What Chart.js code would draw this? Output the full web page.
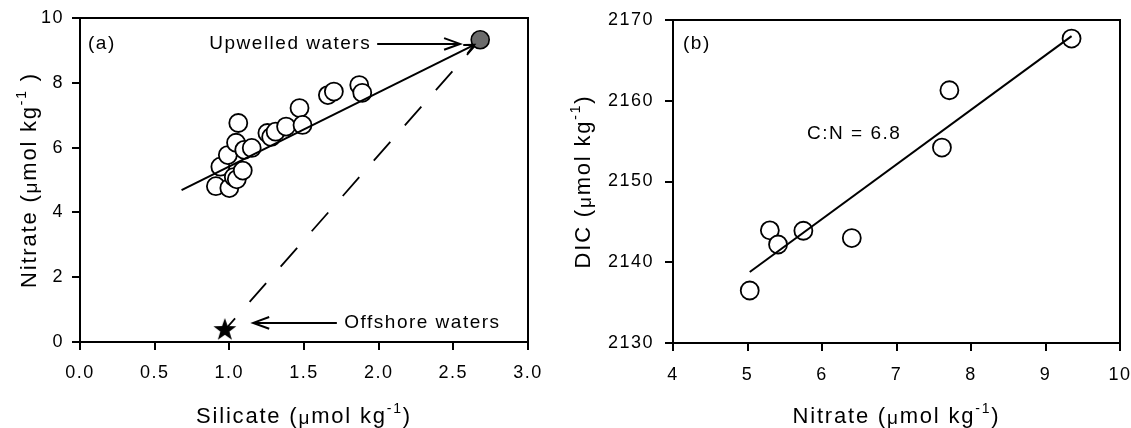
<!DOCTYPE html>
<html>
<head>
<meta charset="UTF-8">
<title>Silicate / Nitrate / DIC</title>
<script src="https://cdn.jsdelivr.net/npm/chart.js"></script>
<style>
    body { margin: 0; background: #fff; }
    #wrap { position: relative; width: 1131px; height: 428px; }
    .panel { position: absolute; top: 0; height: 428px; }
    #pa { left: 0; width: 560px; }
    #pb { left: 560px; width: 571px; }
</style>
</head>
<body>
<div id="wrap">
    <div class="panel" id="pa"><canvas id="chartA"></canvas></div>
    <div class="panel" id="pb"><canvas id="chartB"></canvas></div>
</div>
<script>
// (a) silicate vs nitrate
const silicate = [0.91, 1.00, 0.94, 0.99, 1.03, 1.05, 1.045, 1.06, 1.09, 1.10, 1.15, 1.255, 1.28, 1.31, 1.38, 1.47, 1.49, 1.66, 1.70, 1.87, 1.89];
const nitrate  = [4.81, 4.75, 5.41, 5.77, 5.09, 5.02, 6.15, 6.76, 5.29, 5.93, 5.99, 6.45, 6.33, 6.49, 6.65, 7.22, 6.70, 7.62, 7.73, 7.93, 7.69];
const upwelledSi = [2.68], upwelledN = [9.33];
const offshoreSi = [0.97], offshoreN = [0.37];
const fitSi = [0.68, 2.64], fitN = [4.69, 9.17];
const mixSi = [0.97, 2.68], mixN = [0.37, 9.33];
const siTicks = [0, 0.5, 1.0, 1.5, 2.0, 2.5, 3.0];
const siTickLabels = ['0.0', '0.5', '1.0', '1.5', '2.0', '2.5', '3.0'];
const nTicks = [0, 2, 4, 6, 8, 10];
const nTickLabels = ['0', '2', '4', '6', '8', '10'];

// (b) nitrate vs DIC
const nitrateB = [5.03, 5.30, 5.41, 5.75, 6.40, 7.61, 7.71, 9.35];
const dic      = [2136.5, 2143.95, 2142.2, 2143.9, 2143.0, 2154.2, 2161.3, 2167.7];
const fitBN = [5.03, 9.35], fitBDic = [2138.8, 2168.0];
const nbTicks = [4, 5, 6, 7, 8, 9, 10];
const nbTickLabels = ['4', '5', '6', '7', '8', '9', '10'];
const dicTicks = [2130, 2140, 2150, 2160, 2170];
const dicTickLabels = ['2130', '2140', '2150', '2160', '2170'];

const FONT = '"Liberation Sans", Arial, Helvetica, sans-serif';
const TICK = 7;

function pts(xs, ys) { return xs.map((x, i) => ({ x: x, y: ys[i] })); }

function starImage(r) {
    const c = document.createElement('canvas');
    c.width = c.height = 2 * r + 2;
    const g = c.getContext('2d');
    g.translate(r + 1, r + 1);
    g.beginPath();
    for (let i = 0; i < 10; i++) {
        const rad = i % 2 ? r * 0.4 : r;
        const a = -Math.PI / 2 + i * Math.PI / 5;
        g.lineTo(rad * Math.cos(a), rad * Math.sin(a));
    }
    g.closePath();
    g.fillStyle = '#000';
    g.fill();
    return c;
}

function arrowHead(ctx, x, y, ang, len, spread) {
    ctx.beginPath();
    ctx.moveTo(x - len * Math.cos(ang - spread), y - len * Math.sin(ang - spread));
    ctx.lineTo(x, y);
    ctx.lineTo(x - len * Math.cos(ang + spread), y - len * Math.sin(ang + spread));
    ctx.stroke();
}

// "Name (µmol kg-1)" with superscript, centred on (x, baseline)
function unitLabel(ctx, name, x, y, rotated, spaceBefore) {
    const parts = [
        [name + ' (', 22, 0],
        ['\u03bc', 19, 1],
        ['mol kg', 22, 0],
        ['-1', 14, -10],
        [spaceBefore ? ' )' : ')', 22, 0]
    ];
    ctx.save();
    ctx.translate(x, y);
    if (rotated) ctx.rotate(-Math.PI / 2);
    ctx.letterSpacing = '1.8px';
    ctx.fillStyle = '#000';
    ctx.textAlign = 'left';
    ctx.textBaseline = 'alphabetic';
    let w = 0;
    parts.forEach(p => { ctx.font = p[1] + 'px ' + FONT; w += ctx.measureText(p[0]).width; });
    let cx = -w / 2;
    parts.forEach(p => {
        ctx.font = p[1] + 'px ' + FONT;
        ctx.fillText(p[0], cx, p[2]);
        cx += ctx.measureText(p[0]).width;
    });
    ctx.restore();
}

function text(ctx, s, x, y, align) {
    ctx.save();
    ctx.letterSpacing = '1.5px';
    ctx.font = '19px ' + FONT;
    ctx.fillStyle = '#000';
    ctx.textAlign = align || 'left';
    ctx.textBaseline = 'middle';
    ctx.fillText(s, x, y);
    ctx.restore();
}

// box round the plot area plus outward tick marks
function drawFrame(chart, xt, yt) {
    const ctx = chart.ctx, a = chart.chartArea;
    const sx = chart.scales.x, sy = chart.scales.y;
    ctx.save();
    ctx.setLineDash([]);
    ctx.strokeStyle = '#000';
    ctx.fillStyle = '#000';
    ctx.lineWidth = 2;
    ctx.strokeRect(a.left, a.top, a.right - a.left, a.bottom - a.top);
    xt.forEach(v => {
        const x = Math.round(sx.getPixelForValue(v));
        ctx.fillRect(x - 1, a.bottom, 2, TICK + 1);
    });
    yt.forEach(v => {
        const y = Math.round(sy.getPixelForValue(v));
        ctx.fillRect(a.left - TICK - 1, y - 1, TICK + 1, 2);
    });
    ctx.restore();
}

const spacing = {
    id: 'spacing',
    beforeDraw(chart) { chart.ctx.letterSpacing = '1.5px'; }
};

function axis(min, max, ticks, labels, size, pad) {
    return {
        type: 'linear', min: min, max: max,
        afterFit: s => {
            if (s.isHorizontal()) s.height = size; else s.width = size;
            s.paddingLeft = s.paddingRight = s.paddingTop = s.paddingBottom = 0;
        },
        afterBuildTicks: s => { s.ticks = ticks.map(v => ({ value: v })); },
        ticks: {
            callback: (v, i) => labels[i],
            font: { family: FONT, size: 18 }, color: '#000',
            padding: pad + TICK, maxRotation: 0, autoSkip: false
        },
        grid: { display: false, drawTicks: false },
        border: { display: false }
    };
}

const baseOpts = {
    responsive: true, maintainAspectRatio: false, animation: false, events: [],
    plugins: { legend: { display: false }, tooltip: { enabled: false } }
};

// panel (a)
const decoA = {
    id: 'decoA',
    afterDraw(chart) {
        const ctx = chart.ctx, a = chart.chartArea;
        const sx = chart.scales.x, sy = chart.scales.y;
        drawFrame(chart, siTicks, nTicks);
        ctx.save();
        ctx.strokeStyle = '#000';
        ctx.lineWidth = 2;
        // arrowhead at the end of the fitted line
        const x0 = sx.getPixelForValue(fitSi[0]), y0 = sy.getPixelForValue(fitN[0]);
        const x1 = sx.getPixelForValue(fitSi[1]), y1 = sy.getPixelForValue(fitN[1]);
        arrowHead(ctx, x1, y1, Math.atan2(y1 - y0, x1 - x0), 11, 0.45);
        // label arrows
        const yu = sy.getPixelForValue(9.2);
        ctx.beginPath();
        ctx.moveTo(sx.getPixelForValue(1.99), yu);
        ctx.lineTo(sx.getPixelForValue(2.545), yu);
        ctx.stroke();
        arrowHead(ctx, sx.getPixelForValue(2.545), yu, 0, 17, 0.35);
        const yo = sy.getPixelForValue(0.59);
        ctx.beginPath();
        ctx.moveTo(sx.getPixelForValue(1.72), yo);
        ctx.lineTo(sx.getPixelForValue(1.16), yo);
        ctx.stroke();
        arrowHead(ctx, sx.getPixelForValue(1.16), yo, Math.PI, 17, 0.35);
        ctx.restore();
        text(ctx, 'Upwelled waters', sx.getPixelForValue(1.95), yu, 'right');
        text(ctx, 'Offshore waters', sx.getPixelForValue(1.77), yo, 'left');
        text(ctx, '(a)', a.left + 8, a.top + 26, 'left');
        unitLabel(ctx, 'Silicate', (a.left + a.right) / 2, 423, false, false);
        unitLabel(ctx, 'Nitrate', a.left - 44, (a.top + a.bottom) / 2, true, true);
    }
};

new Chart(document.getElementById('chartA'), {
    type: 'scatter',
    data: {
        datasets: [
            { data: pts(upwelledSi, upwelledN), pointRadius: 9, pointBackgroundColor: '#6b6b6b',
              pointBorderColor: '#000', pointBorderWidth: 1.6, order: 0 },
            { data: pts(offshoreSi, offshoreN), pointStyle: starImage(12), pointRadius: 12, order: 0 },
            { data: pts(fitSi, fitN), showLine: true, borderColor: '#000', borderWidth: 2,
              pointRadius: 0, tension: 0, order: 1 },
            { data: pts(silicate, nitrate), pointRadius: 9, pointBackgroundColor: '#fff',
              pointBorderColor: '#000', pointBorderWidth: 1.8, order: 2 },
            { data: pts(mixSi, mixN), showLine: true, borderColor: '#000', borderWidth: 1.8,
              borderDash: [25, 22], borderDashOffset: 9.5, pointRadius: 0, tension: 0, order: 3 }
        ]
    },
    options: Object.assign({}, baseOpts, {
        layout: { padding: { top: 18, right: 32, left: 0, bottom: 0 } },
        scales: {
            x: axis(0, 3, siTicks, siTickLabels, 86, 13),
            y: axis(0, 10, nTicks, nTickLabels, 80, 9)
        }
    }),
    plugins: [spacing, decoA]
});

// panel (b)
const decoB = {
    id: 'decoB',
    afterDraw(chart) {
        const ctx = chart.ctx, a = chart.chartArea;
        const sx = chart.scales.x, sy = chart.scales.y;
        drawFrame(chart, nbTicks, dicTicks);
        text(ctx, 'C:N = 6.8', sx.getPixelForValue(5.80), sy.getPixelForValue(2155.9), 'left');
        text(ctx, '(b)', a.left + 10, a.top + 24, 'left');
        unitLabel(ctx, 'Nitrate', (a.left + a.right) / 2, 423, false, false);
        unitLabel(ctx, 'DIC', a.left - 83, (a.top + a.bottom) / 2, true, false);
    }
};

new Chart(document.getElementById('chartB'), {
    type: 'scatter',
    data: {
        datasets: [
            { data: pts(fitBN, fitBDic), showLine: true, borderColor: '#000', borderWidth: 2,
              pointRadius: 0, tension: 0, order: 0 },
            { data: pts(nitrateB, dic), pointRadius: 9, pointBackgroundColor: '#fff',
              pointBorderColor: '#000', pointBorderWidth: 1.8, order: 1 }
        ]
    },
    options: Object.assign({}, baseOpts, {
        layout: { padding: { top: 20, right: 11, left: 0, bottom: 0 } },
        scales: {
            x: axis(4, 10, nbTicks, nbTickLabels, 85, 14),
            y: axis(2130, 2170, dicTicks, dicTickLabels, 113, 12)
        }
    }),
    plugins: [spacing, decoB]
});
</script>
</body>
</html>
